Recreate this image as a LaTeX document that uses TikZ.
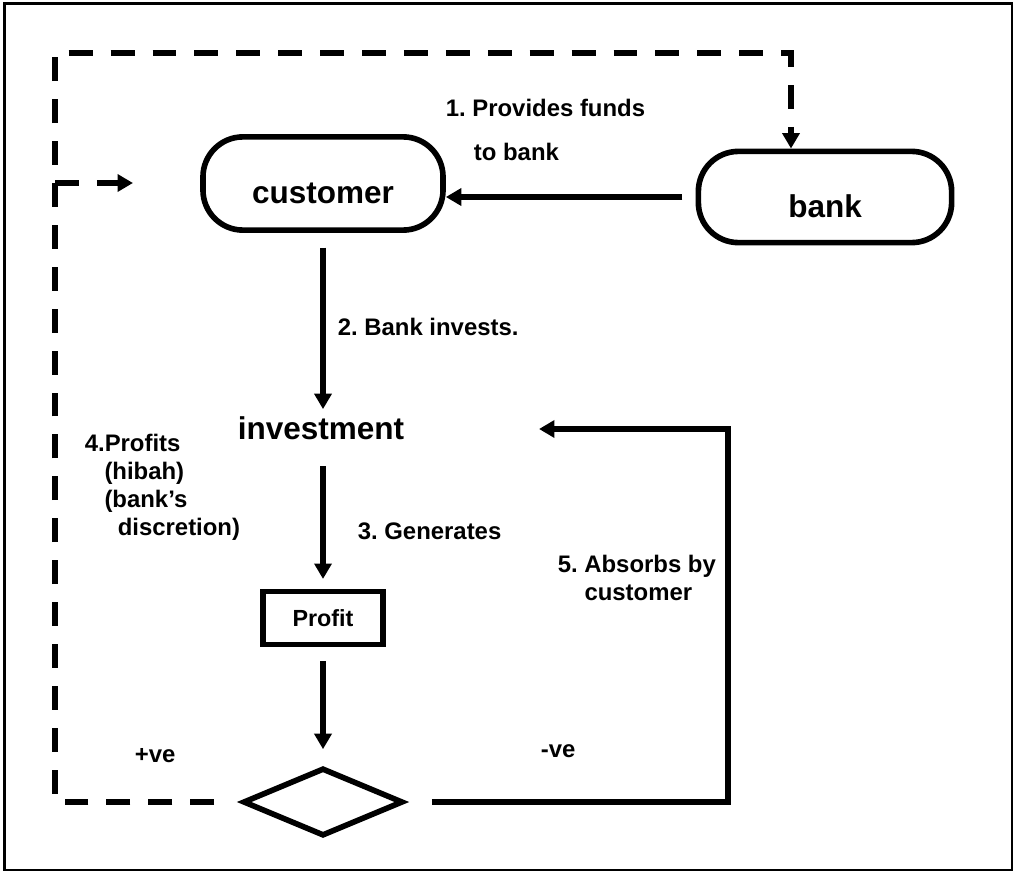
\documentclass[tikz,border=0pt]{standalone}
\usepackage{fontspec}
\setmainfont{Liberation Sans}
\frenchspacing
\usetikzlibrary{arrows.meta,shapes.geometric}

\begin{document}
\begin{tikzpicture}[x=0.025cm,y=-0.025cm,line width=4pt,
  every node/.style={font=\bfseries},
  arr/.style={-{Triangle[length=11pt,width=12pt]}},
  dashline/.style={dash pattern=on 17pt off 12.8pt},
  term/.style={draw,rounded corners=1cm,minimum width=6cm,minimum height=2.33cm,
    font=\fontsize{22.4}{26}\bfseries\selectfont,text height=29pt,text depth=0pt},
  note/.style={inner sep=0pt,align=left,font=\fontsize{17}{19.7}\bfseries\selectfont}]
\useasboundingbox (0,0) rectangle (1016,873);
\draw [line width=1.5pt] (4.5,3.5) rectangle (1012,870);
% boxes
\node [term] (customer) at (323,183.5) {customer};
\node [term,minimum width=6.33cm,minimum height=2.28cm] (bank) at (825,197) {bank};
\node [font=\fontsize{22.4}{26}\bfseries\selectfont,inner sep=3pt,anchor=base] (investment) at (321,439) {investment};
\node [draw,minimum width=3cm,minimum height=1.33cm,font=\fontsize{16.6}{20}\bfseries\selectfont] (profit) at (323,618) {Profit};
\node [draw,diamond,minimum width=4cm,minimum height=1.7cm,inner sep=0pt] (decide) at (323,802) {};
\coordinate (join) at (55,183);
\coordinate (feed) at (133,183);
\coordinate (turn) at (728,429);
\coordinate (back) at (539,429);
% solid arrows
\draw [arr,shorten <=0.33cm] (bank.west) -- (bank.west -| customer.east);
\draw [arr,shorten <=0.37cm] (customer.south) -- (customer.south |- investment.north);
\draw [arr,shorten <=0.5cm,shorten >=0.24cm] (customer.south |- investment.south) -- (profit.north);
\draw [arr,shorten <=0.34cm,shorten >=0.4cm] (profit.south) -- (decide.north);
\draw [arr,shorten <=0.65cm] (decide.east) -| (turn) -- (back);
% dashed loop
\draw [dashline,arr,dash phase=17pt,shorten <=0.2cm] (decide.west) -| (55,53) -| ([xshift=-0.85cm]bank.north);
\draw [dashline,arr] (join) -- (feed);
% labels (base = last line)
\node [note,anchor=base west,font=\fontsize{17}{30.6}\bfseries\selectfont] (provides) at (443,160) {1. Provides funds\\\hspace*{20pt}to bank};
\node [note,anchor=base west] (invests) at (335,335) {2. Bank invests.};
\node [note,anchor=base west] (generates) at (355,539) {3. Generates};
\node [note,anchor=base west] (profits) at (82,535) {4.Profits\\\hspace*{14pt}(hibah)\\\hspace*{14pt}(bank’s\\\hspace*{23.5pt}discretion)};
\node [note,anchor=base west] (absorbs) at (555,600) {5. Absorbs by\\\hspace*{19pt}customer};
\node [note,anchor=base west] (pos) at (132,762) {+ve};
\node [note,anchor=base west] (neg) at (538,757) {-ve};
\end{tikzpicture}
\end{document}
